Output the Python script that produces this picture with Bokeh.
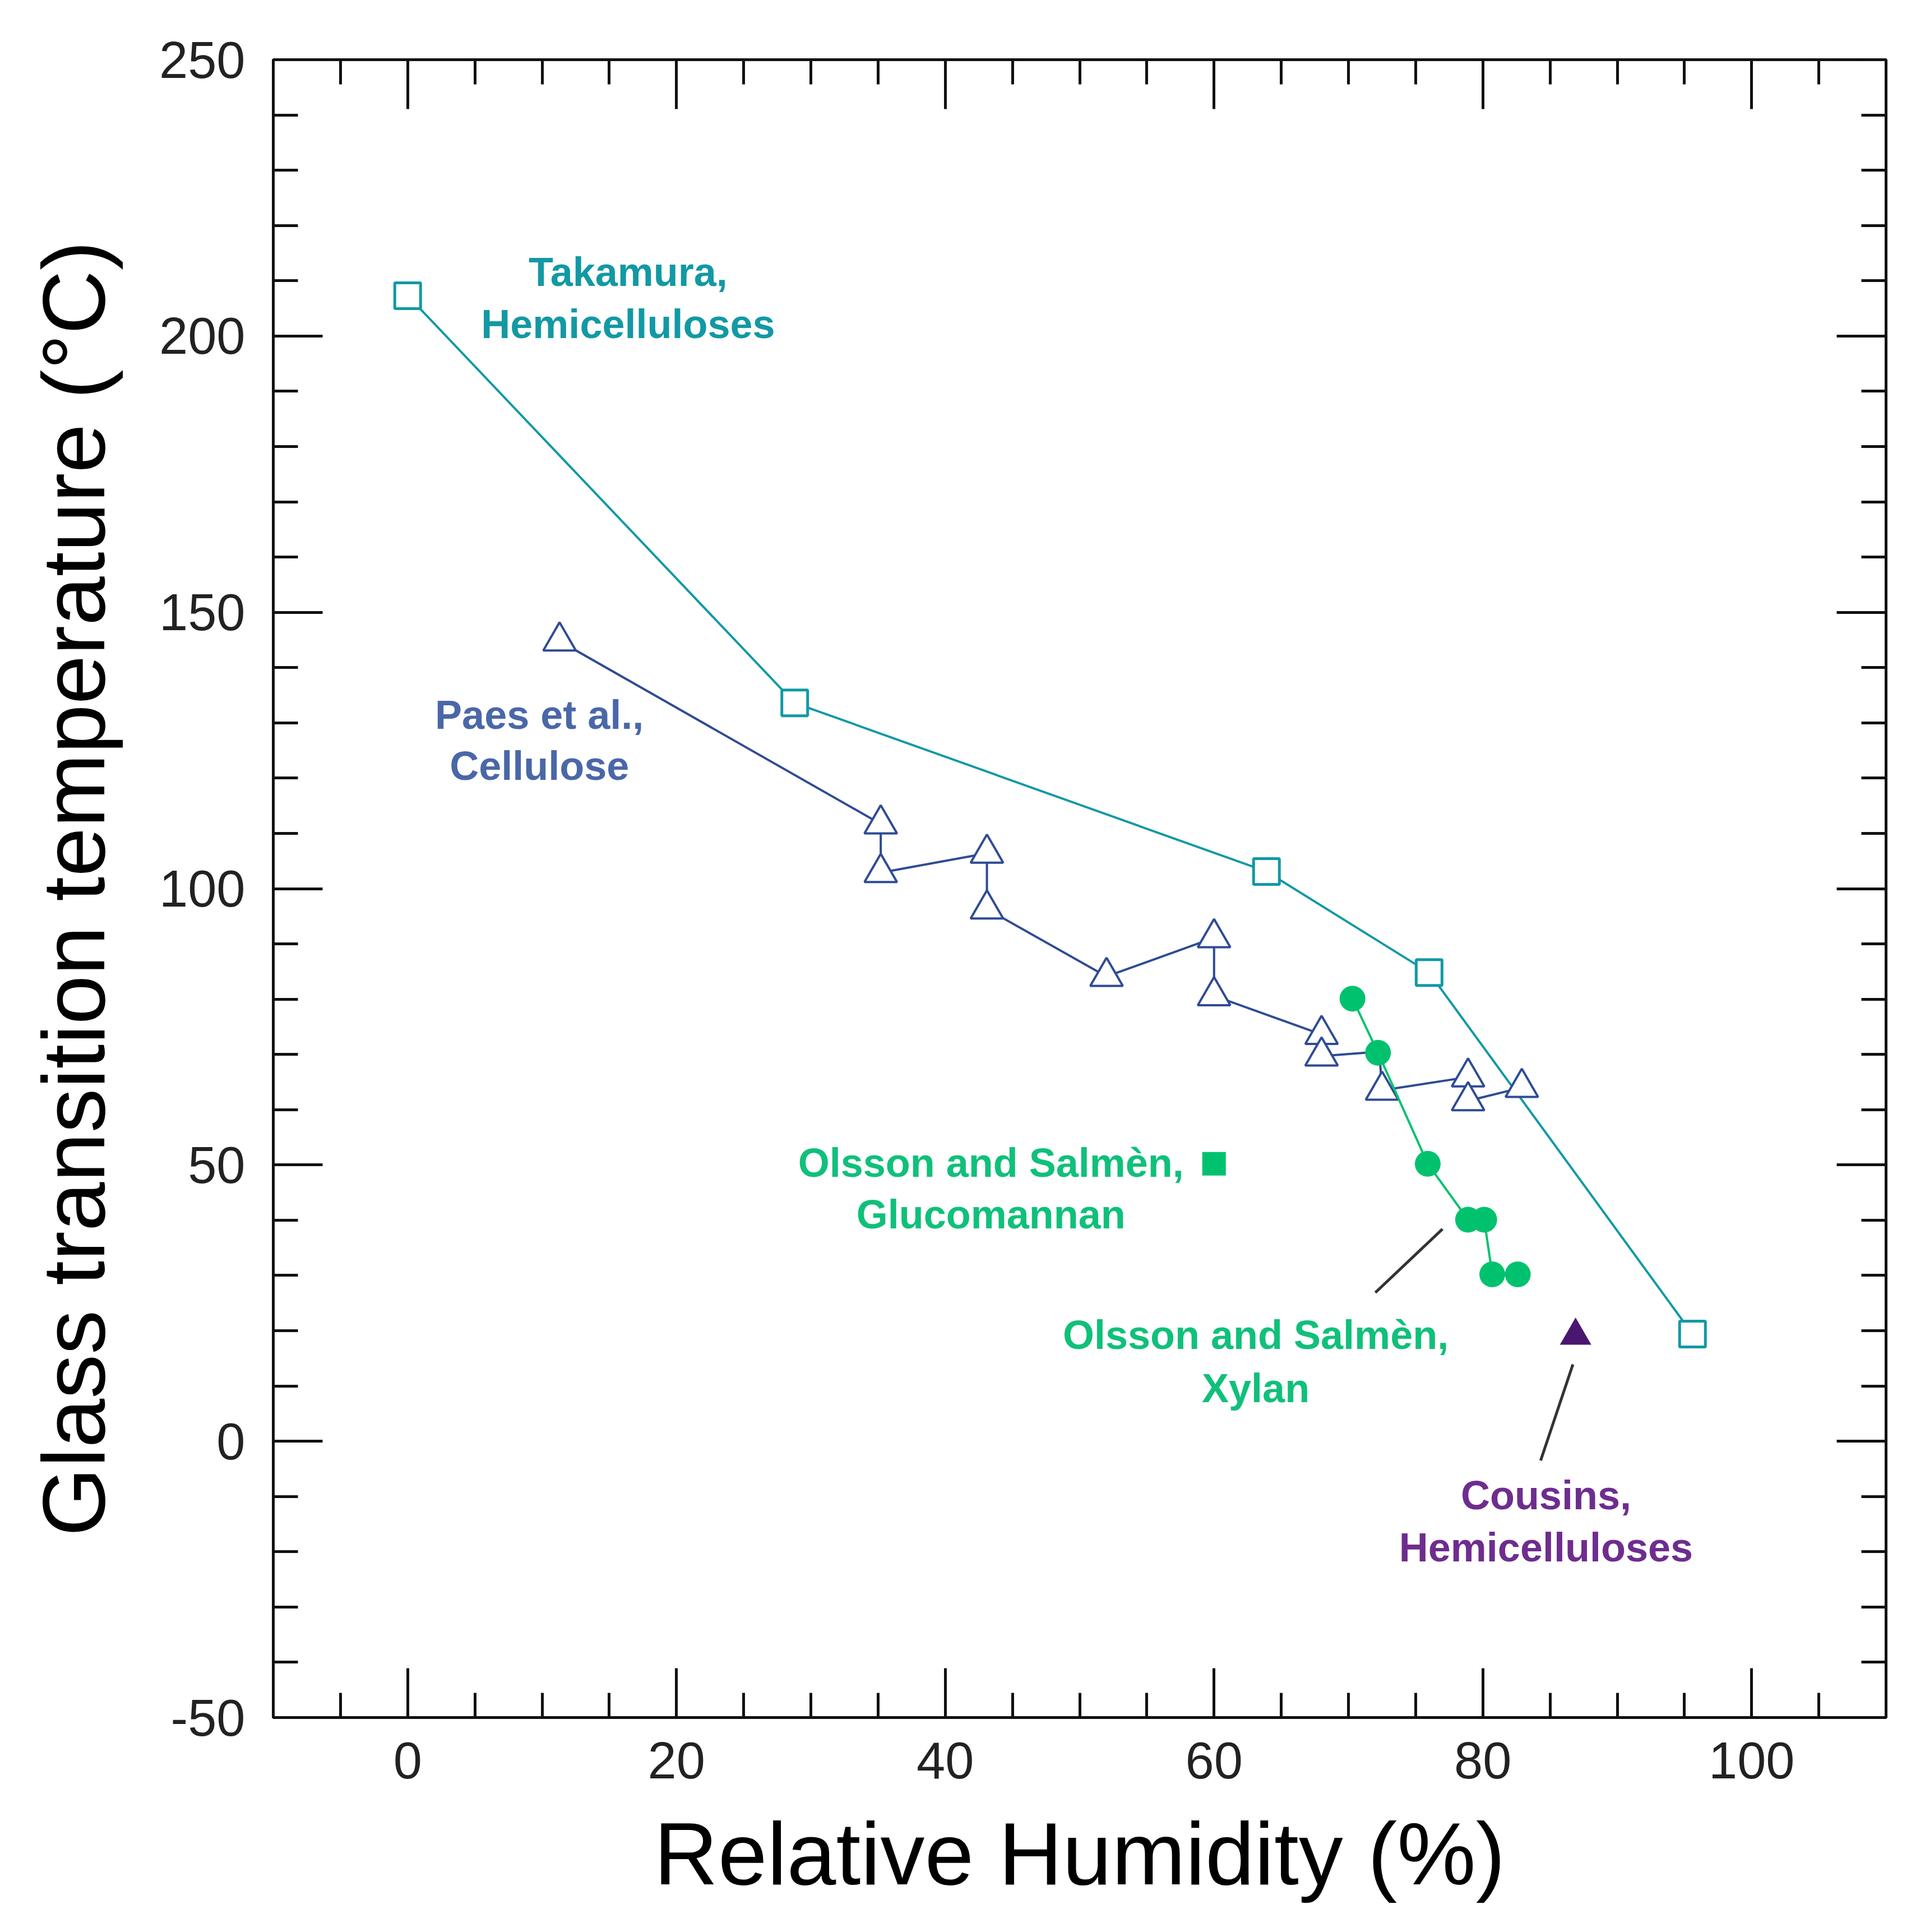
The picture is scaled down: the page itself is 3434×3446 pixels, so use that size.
from bokeh.plotting import figure
from bokeh.models import (ColumnDataSource, LinearAxis, SingleIntervalTicker,
                          CustomJSTickFormatter, Range1d)
from bokeh.core.properties import value
from bokeh.embed import file_html
from bokeh.resources import INLINE

# Takamura, hemicelluloses
tak_rh = [0.0, 28.8, 63.9, 76.0, 95.6]
tak_tg = [207.3, 133.6, 103.1, 84.8, 19.4]

# Paes et al., cellulose (line path; marker flag 0 = bend without a marker)
paes_rh = [11.3, 35.2, 35.2, 43.1, 43.1, 52.0, 60.0, 60.0, 68.0, 68.0, 72.3, 72.5, 78.9, 78.9, 82.9]
paes_tg = [144.8, 111.7, 102.9, 106.4, 96.3, 84.1, 91.1, 80.6, 73.6, 69.7, 70.5, 63.5, 65.9, 61.6, 64.0]
paes_marker = [1, 1, 1, 1, 1, 1, 1, 1, 1, 1, 0, 1, 1, 1, 1]

# Olsson and Salmen, xylan
xyl_rh = [70.3, 72.2, 75.9, 78.9, 80.1, 80.7, 82.6]
xyl_tg = [80.1, 70.3, 50.2, 40.1, 40.1, 30.2, 30.2]

# Olsson and Salmen, glucomannan
glu_rh = [60.0]
glu_tg = [50.2]

# Cousins, hemicelluloses
cou_rh = [86.9]
cou_tg = [19.1]

# label texts and where they sit
label_text = ["Takamura,", "Hemicelluloses", "Paes et al.,", "Cellulose",
              "Olsson and Salmèn,", "Glucomannan", "Olsson and Salmèn,", "Xylan",
              "Cousins,", "Hemicelluloses"]
label_x = [16.4, 16.4, 9.8, 9.8, 43.4, 43.4, 63.1, 63.1, 84.7, 84.7]
label_y = [211.6, 202.2, 131.5, 122.2, 50.4, 41.1, 19.2, 9.6, -9.8, -19.2]

# leader lines (x0, y0, x1, y1)
lead_x0 = [77.0, 86.7]
lead_y0 = [38.4, 13.9]
lead_x1 = [72.0, 84.3]
lead_y1 = [26.9, -3.5]

TEAL = "#1299a4"
NAVY = "#2e4b94"
GREEN = "#00c26e"
PURPLE = "#4a1670"
label_color = [TEAL, TEAL, "#4a67a8", "#4a67a8", "#10c07a", "#10c07a",
               "#10c07a", "#10c07a", "#6e2d8e", "#6e2d8e"]

p = figure(width=3418, height=3430, output_backend="svg", toolbar_location=None,
           x_range=Range1d(-10, 110), y_range=Range1d(-50, 250))
p.min_border_left = 487
p.min_border_right = 54
p.min_border_top = 106
p.min_border_bottom = 367
p.background_fill_color = "white"
p.border_fill_color = "white"
p.outline_line_color = "#111111"
p.outline_line_width = 5
p.xgrid.grid_line_color = None
p.ygrid.grid_line_color = None

xt = SingleIntervalTicker(interval=20, num_minor_ticks=4)
yt = SingleIntervalTicker(interval=50, num_minor_ticks=5)
bottom = p.below[0]
left = p.left[0]
bottom.ticker = xt
left.ticker = yt
bottom.formatter = CustomJSTickFormatter(code="return String(tick)")
left.formatter = CustomJSTickFormatter(code="return String(tick)")

top = LinearAxis(ticker=xt, formatter=CustomJSTickFormatter(code="return ''"))
right = LinearAxis(ticker=yt, formatter=CustomJSTickFormatter(code="return ''"))
p.add_layout(top, "above")
p.add_layout(right, "right")

for ax in [bottom, left, top, right]:
    ax.axis_line_color = "#111111"
    ax.axis_line_width = 5
    ax.major_tick_line_color = "#111111"
    ax.major_tick_line_width = 5
    ax.minor_tick_line_color = "#111111"
    ax.minor_tick_line_width = 5
    ax.major_tick_in = 88
    ax.major_tick_out = 0
    ax.minor_tick_in = 44
    ax.minor_tick_out = 0
    ax.major_label_text_font = "Liberation Sans"
    ax.major_label_text_font_size = "92px"
    ax.major_label_text_color = "#222222"

bottom.axis_label = "Relative Humidity (%)"
left.axis_label = "Glass transition temperature (°C)"
for ax in [bottom, left]:
    ax.axis_label_text_font = "Liberation Sans"
    ax.axis_label_text_font_size = "158px"
    ax.axis_label_text_font_style = "normal"
    ax.axis_label_text_color = "#000000"
bottom.major_label_standoff = 44
bottom.axis_label_standoff = 43
left.major_label_standoff = 50
left.axis_label_standoff = 62

# lines
p.line(tak_rh, tak_tg, line_color=TEAL, line_width=4)
p.line(paes_rh, paes_tg, line_color=NAVY, line_width=4)

paes_src = ColumnDataSource(dict(
    x=[x for x, m in zip(paes_rh, paes_marker) if m],
    y=[y for y, m in zip(paes_tg, paes_marker) if m]))
p.scatter("x", "y", source=paes_src, marker="triangle", size=58,
          line_color=NAVY, line_width=4, fill_color="white")
p.scatter(tak_rh, tak_tg, marker="square", size=46, line_color=TEAL,
          line_width=5, fill_color="white")

p.line(xyl_rh, xyl_tg, line_color=GREEN, line_width=4)
p.scatter(xyl_rh, xyl_tg, marker="circle", size=46, line_color=None,
          fill_color=GREEN)
p.scatter(glu_rh, glu_tg, marker="square", size=42, line_color=None,
          fill_color=GREEN)
p.scatter(cou_rh, cou_tg, marker="triangle", size=56, line_color=None,
          fill_color=PURPLE)

p.segment(lead_x0, lead_y0, lead_x1, lead_y1, line_color="#333333", line_width=5)

lab_src = ColumnDataSource(dict(x=label_x, y=label_y, t=label_text, c=label_color))
p.text("x", "y", text="t", source=lab_src, text_color="c",
       text_font=value("Liberation Sans"), text_font_style="bold",
       text_font_size="72px", text_align="center", text_baseline="middle")

open("out.html", "w").write(file_html(p, INLINE))
